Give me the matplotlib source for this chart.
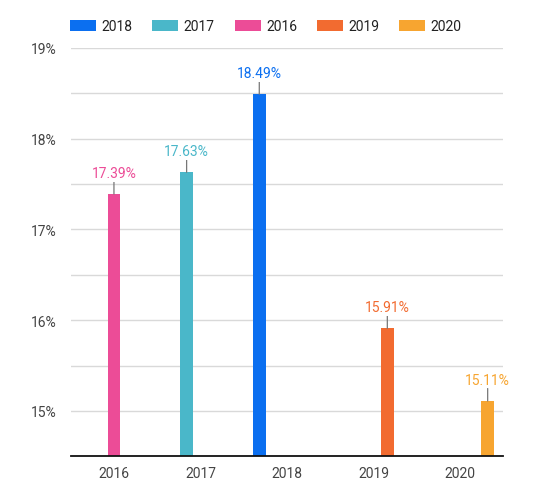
import matplotlib
matplotlib.use("Agg")
import matplotlib.pyplot as plt
import numpy as np
from matplotlib.ticker import MultipleLocator, FuncFormatter

plt.rcParams['font.family'] = ['Roboto', 'DejaVu Sans']

categories = ['2016', '2017', '2018', '2019', '2020']
series_names = ['2018', '2017', '2016', '2019', '2020']
series_colors = ['#0b6ff0', '#4ab7c9', '#ec4c97', '#f26b30', '#f7a530']
# each series only has a value in its own category
series_values = {
    '2018': [None, None, 18.49, None, None],
    '2017': [None, 17.63, None, None, None],
    '2016': [17.39, None, None, None, None],
    '2019': [None, None, None, 15.91, None],
    '2020': [None, None, None, None, 15.11],
}

y_min, y_max = 14.5, 19.0
bar_step = 0.16
bar_width = 0.145

fig = plt.figure(figsize=(5.38, 5.02), dpi=100)
ax = fig.add_axes([0.1314, 0.089, 0.804, 0.8134])

x = np.arange(len(categories))
handles = []
for i, (name, color) in enumerate(zip(series_names, series_colors)):
    offset = (i - (len(series_names) - 1) / 2) * bar_step
    vals = series_values[name]
    xs = [x[j] + offset for j, v in enumerate(vals) if v is not None]
    hs = [v - y_min for v in vals if v is not None]
    bars = ax.bar(xs, hs, bottom=y_min, width=bar_width, color=color,
                  zorder=3, label=name)
    handles.append(bars)
    for bx, v in zip(xs, [v for v in vals if v is not None]):
        # leader line + value label above the bar
        ax.annotate(f'{v:.2f}%', xy=(bx, v), xytext=(0, 10),
                    textcoords='offset points', ha='center', va='bottom',
                    fontsize=10, color=color, zorder=5,
                    bbox=dict(boxstyle='square,pad=0.1', fc='white', ec='none'),
                    arrowprops=dict(arrowstyle='-', color='#777777', lw=0.9,
                                    shrinkA=0, shrinkB=0))

ax.set_ylim(y_min, y_max)
ax.set_xlim(-0.5, len(categories) - 0.5)
ax.set_xticks(x)
ax.set_xticklabels(categories)
ax.yaxis.set_major_locator(MultipleLocator(1))
ax.yaxis.set_minor_locator(MultipleLocator(0.5))
ax.yaxis.set_major_formatter(FuncFormatter(lambda v, p: f'{v:.0f}%'))
ax.grid(axis='y', which='both', color='#d9d9d9', lw=1, zorder=0)
ax.set_axisbelow(True)

for s in ['top', 'right', 'left']:
    ax.spines[s].set_visible(False)
ax.spines['bottom'].set_color('#111111')
ax.spines['bottom'].set_linewidth(1.3)
ax.spines['bottom'].set_zorder(4)

ax.tick_params(axis='both', which='both', length=0, labelsize=10,
               labelcolor='#444444')
ax.tick_params(axis='y', pad=10)
ax.tick_params(axis='x', pad=7)

fig.legend(handles=handles, labels=series_names, loc='center left',
           bbox_to_anchor=(0.130, 0.946), ncol=5, frameon=False,
           fontsize=10, handlelength=1.87, handleheight=0.86,
           handletextpad=0.38, columnspacing=1.45, borderpad=0,
           borderaxespad=0, labelcolor='#222222')

fig.savefig('out.png', dpi=100)
